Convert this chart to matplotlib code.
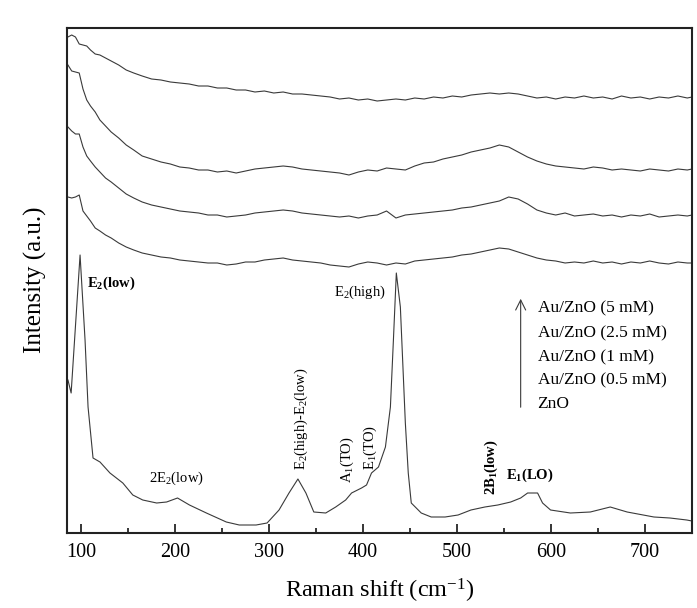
import matplotlib
matplotlib.use("Agg")
import matplotlib.pyplot as plt

plt.rcParams["font.family"] = ["Liberation Serif", "DejaVu Serif"]
plt.rcParams["mathtext.fontset"] = "custom"
plt.rcParams["mathtext.rm"] = "Liberation Serif"
plt.rcParams["mathtext.it"] = "Liberation Serif:italic"
plt.rcParams["mathtext.bf"] = "Liberation Serif:bold"

# Raman spectra (x in cm-1, intensity in arbitrary units, already offset)
x_zno = [86, 89.4, 98.9, 104.2, 107.4, 112.7, 120.1, 130.7, 144.4, 155, 165.6, 180.4, 191,
         202.6, 215.3, 233.3, 254.5, 268.3, 286.2, 297.9, 310.6, 321.2, 330.7, 339.2, 347.6,
         360.3, 370.9, 381.5, 387.8, 398.4, 403.7, 409, 416.4, 423.8, 429.1, 432.3, 435.4,
         439.7, 445, 448.1, 451.3, 461.9, 472.5, 487.3, 501.1, 514.8, 529.6, 543.4, 557.1,
         567.7, 575.1, 585.7, 591, 599.5, 620.6, 641.8, 663, 681, 709.5, 726.5, 744.4, 750]
y_zno = [153, 140, 278, 193, 126, 75, 71, 60, 50, 38, 33, 30, 31,
         35, 28, 20, 11, 8, 8, 10, 23, 40, 54, 40, 21,
         20, 26, 33, 40, 45, 48, 60, 66, 86, 126, 193, 260,
         226, 110, 60, 30, 20, 16, 16, 18, 23, 26, 28, 31,
         35, 40, 40, 30, 23, 20, 21, 26, 21, 16, 15, 13, 12]

# the four Au/ZnO spectra share one wavenumber grid
x_au = [86, 90, 94, 98, 102, 106, 110, 115, 120, 126,
        132, 140, 148, 156, 165, 175, 185, 195, 205, 215,
        225, 235, 245, 255, 265, 275, 285, 295, 305, 315,
        325, 335, 345, 355, 365, 375, 385, 395, 405, 415,
        425, 435, 445, 455, 465, 475, 485, 495, 505, 515,
        525, 535, 545, 555, 565, 575, 585, 595, 605, 615,
        625, 635, 645, 655, 665, 675, 685, 695, 705, 715,
        725, 735, 745, 750]
y_05 = [336, 335, 336, 338, 322, 317, 312, 305, 302, 298,
        295, 290, 286, 283, 280, 278, 276, 275, 273, 272,
        271, 270, 270, 268, 269, 271, 271, 273, 274, 275,
        273, 272, 271, 270, 268, 267, 266, 269, 271, 270,
        268, 270, 269, 272, 273, 274, 275, 276, 278, 279,
        281, 283, 285, 284, 281, 278, 275, 273, 272, 270,
        271, 270, 272, 270, 271, 269, 271, 270, 272, 270,
        269, 271, 270, 270]
y_1 = [406, 402, 399, 399, 386, 377, 372, 366, 361, 355,
       351, 345, 339, 335, 331, 328, 326, 324, 322, 321,
       320, 318, 318, 316, 317, 318, 320, 321, 322, 323,
       322, 320, 319, 318, 317, 316, 317, 315, 317, 318,
       322, 315, 318, 319, 320, 321, 322, 323, 325, 326,
       328, 330, 332, 336, 334, 329, 323, 320, 318, 320,
       317, 318, 319, 317, 318, 316, 318, 317, 319, 316,
       317, 318, 317, 318]
y_25 = [468, 462, 461, 460, 444, 433, 427, 421, 413, 407,
        401, 395, 388, 383, 377, 374, 371, 369, 366, 365,
        363, 363, 361, 362, 360, 362, 364, 365, 366, 367,
        366, 364, 363, 362, 361, 360, 358, 361, 363, 362,
        365, 364, 363, 367, 370, 371, 374, 376, 378, 381,
        383, 385, 388, 386, 381, 376, 372, 369, 367, 366,
        365, 364, 366, 365, 363, 364, 363, 362, 364, 363,
        362, 364, 363, 364]
y_5 = [496, 498, 496, 489, 488, 487, 483, 479, 478, 475,
       472, 468, 463, 460, 457, 454, 453, 451, 450, 449,
       447, 447, 445, 445, 443, 443, 441, 442, 440, 441,
       439, 439, 438, 437, 436, 434, 435, 433, 434, 432,
       433, 434, 433, 435, 434, 436, 435, 437, 436, 438,
       439, 440, 439, 440, 439, 437, 435, 436, 434, 436,
       435, 437, 435, 436, 434, 437, 435, 436, 434, 436,
       435, 437, 435, 436]

series = [(x_zno, y_zno), (x_au, y_05), (x_au, y_1), (x_au, y_25), (x_au, y_5)]
legend_labels = ["Au/ZnO (5 mM)", "Au/ZnO (2.5 mM)", "Au/ZnO (1 mM)",
                 "Au/ZnO (0.5 mM)", "ZnO"]

fig = plt.figure(figsize=(6.97, 6.08), dpi=100)
ax = fig.add_axes([67 / 697, 75 / 608, 625 / 697, 505 / 608])

for xs, ys in series:
    ax.plot(xs, ys, color="#3a3a3a", lw=0.8)

ax.set_xlim(85, 750)
ax.set_ylim(0, 505)
ax.set_xticks(range(100, 701, 100))
ax.set_xticks(range(150, 751, 100), minor=True)
ax.set_yticks([])
ax.tick_params(axis="x", which="both", direction="in", top=False, width=1.1,
               labelsize=14.5, pad=7)
ax.tick_params(axis="x", which="major", length=6.5)
ax.tick_params(axis="x", which="minor", length=3.6)
for s in ax.spines.values():
    s.set_linewidth(1.5)
    s.set_color("#222222")

# peak annotations
fs = 10.5
ax.text(106, 250, r"E$_\mathbf{2}$(low)", fontsize=fs, fontweight="bold", ha="left", va="center")
ax.text(201.6, 55, r"2E$_2$(low)", fontsize=fs, ha="center", va="center")
ax.text(333.9, 63, r"E$_2$(high)-E$_2$(low)", fontsize=fs, rotation=90, ha="center", va="bottom")
ax.text(383.6, 50, r"A$_1$(TO)", fontsize=fs, rotation=90, ha="center", va="bottom")
ax.text(407.9, 63, r"E$_1$(TO)", fontsize=fs, rotation=90, ha="center", va="bottom")
ax.text(396.3, 241, r"E$_2$(high)", fontsize=fs, ha="center", va="center")
ax.text(537, 38, r"2B$_\mathbf{1}$(low)", fontsize=fs, fontweight="bold", rotation=90,
        ha="center", va="bottom")
ax.text(577.8, 58, r"E$_\mathbf{1}$(LO)", fontsize=fs, fontweight="bold", ha="center", va="center")

# sample order legend with arrow
legend_y = [225, 200, 176, 153, 129]
for lab, ly in zip(legend_labels, legend_y):
    ax.text(585.7, ly, lab, fontsize=12.5, ha="left", va="center")
ax.annotate("", xy=(567.7, 237), xytext=(567.7, 123),
            arrowprops=dict(arrowstyle="->", lw=0.8, color="#3a3a3a",
                            mutation_scale=18))

fig.text(35 / 697, 1 - 280 / 608, "Intensity (a.u.)", fontsize=18, rotation=90,
         ha="center", va="center")
fig.text(380 / 697, 1 - 591 / 608, r"Raman shift (cm$^{-1}$)", fontsize=17.5,
         ha="center", va="center")

fig.savefig("out.png", dpi=100)
